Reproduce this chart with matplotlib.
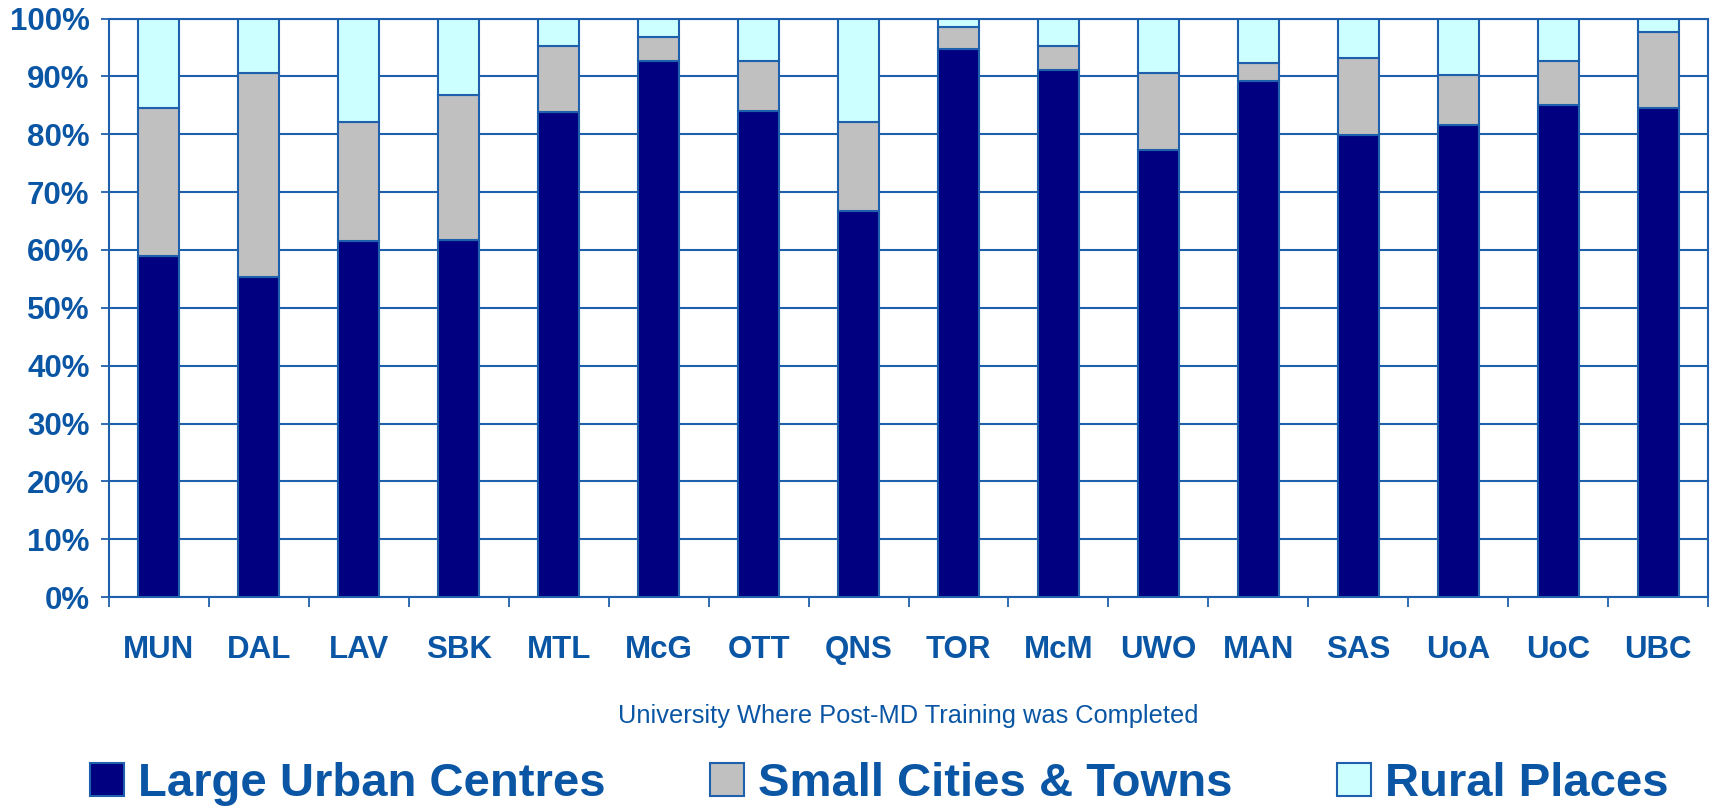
import numpy as np
import matplotlib.pyplot as plt
from matplotlib.ticker import PercentFormatter

plt.rcParams['font.family'] = ['Liberation Sans', 'DejaVu Sans']

universities = ["MUN", "DAL", "LAV", "SBK", "MTL", "McG", "OTT", "QNS",
                "TOR", "McM", "UWO", "MAN", "SAS", "UoA", "UoC", "UBC"]
# percentages
large_urban = [58.9, 55.4, 61.5, 61.8, 83.9, 92.6, 84.0, 66.7,
               94.7, 91.2, 77.2, 89.2, 79.8, 81.6, 85.1, 84.5]
small_cities = [25.6, 35.2, 20.7, 25.0, 11.4, 4.2, 8.6, 15.5,
                3.8, 4.1, 13.4, 3.2, 13.4, 8.7, 7.5, 13.1]
rural = [100 - a - b for a, b in zip(large_urban, small_cities)]

txt_col = '#0A56A4'
line_col = '#1F60AC'

fig = plt.figure(figsize=(17.14, 8.09), dpi=100)
ax = fig.add_axes([0.0636, 0.262, 0.9329, 0.715])

x = np.arange(len(universities))
w = 0.41
b1 = ax.bar(x, large_urban, w, color='#000080', edgecolor=line_col, lw=1.5,
            label='Large Urban Centres', zorder=3)
b2 = ax.bar(x, small_cities, w, bottom=large_urban, color='#C0C0C0',
            edgecolor=line_col, lw=1.5, label='Small Cities & Towns', zorder=3)
b3 = ax.bar(x, rural, w, bottom=np.array(large_urban) + np.array(small_cities),
            color='#CCFFFF', edgecolor=line_col, lw=1.5, label='Rural Places', zorder=3)

ax.set_xlim(-0.5, len(universities) - 0.5)
ax.set_ylim(0, 100)
ax.set_yticks(np.arange(0, 101, 10))
ax.yaxis.set_major_formatter(PercentFormatter(decimals=0))
ax.grid(axis='y', color=line_col, lw=1.5, zorder=0)

ax.set_xticks(x)
ax.set_xticklabels(universities)
ax.set_xticks(np.arange(-0.5, len(universities)), minor=True)
ax.tick_params(axis='x', which='major', length=0, pad=27)
ax.tick_params(axis='x', which='minor', length=7, width=1.3, color=line_col)
ax.tick_params(axis='y', length=6, width=1.3, color=line_col, pad=8)
for lab in ax.get_xticklabels():
    lab.set_fontsize(22.5)
    lab.set_fontweight('bold')
    lab.set_color(txt_col)
for lab in ax.get_yticklabels():
    lab.set_fontsize(22.5)
    lab.set_fontweight('bold')
    lab.set_color(txt_col)

for s in ax.spines.values():
    s.set_color(line_col)
    s.set_linewidth(1.5)

ax.set_xlabel('University Where Post-MD Training was Completed',
              fontsize=18.3, color=txt_col, va='center')
ax.xaxis.set_label_coords(0.5, -0.206)

fig.legend(handles=[b1, b2, b3], loc='center', bbox_to_anchor=(0.513, 0.031),
           ncol=3, frameon=False, handlelength=0.72, handleheight=0.72,
           handletextpad=0.3, columnspacing=2.2, borderpad=0,
           prop={'size': 34, 'weight': 'bold'}, labelcolor=txt_col)

plt.savefig('out.png', dpi=100)
